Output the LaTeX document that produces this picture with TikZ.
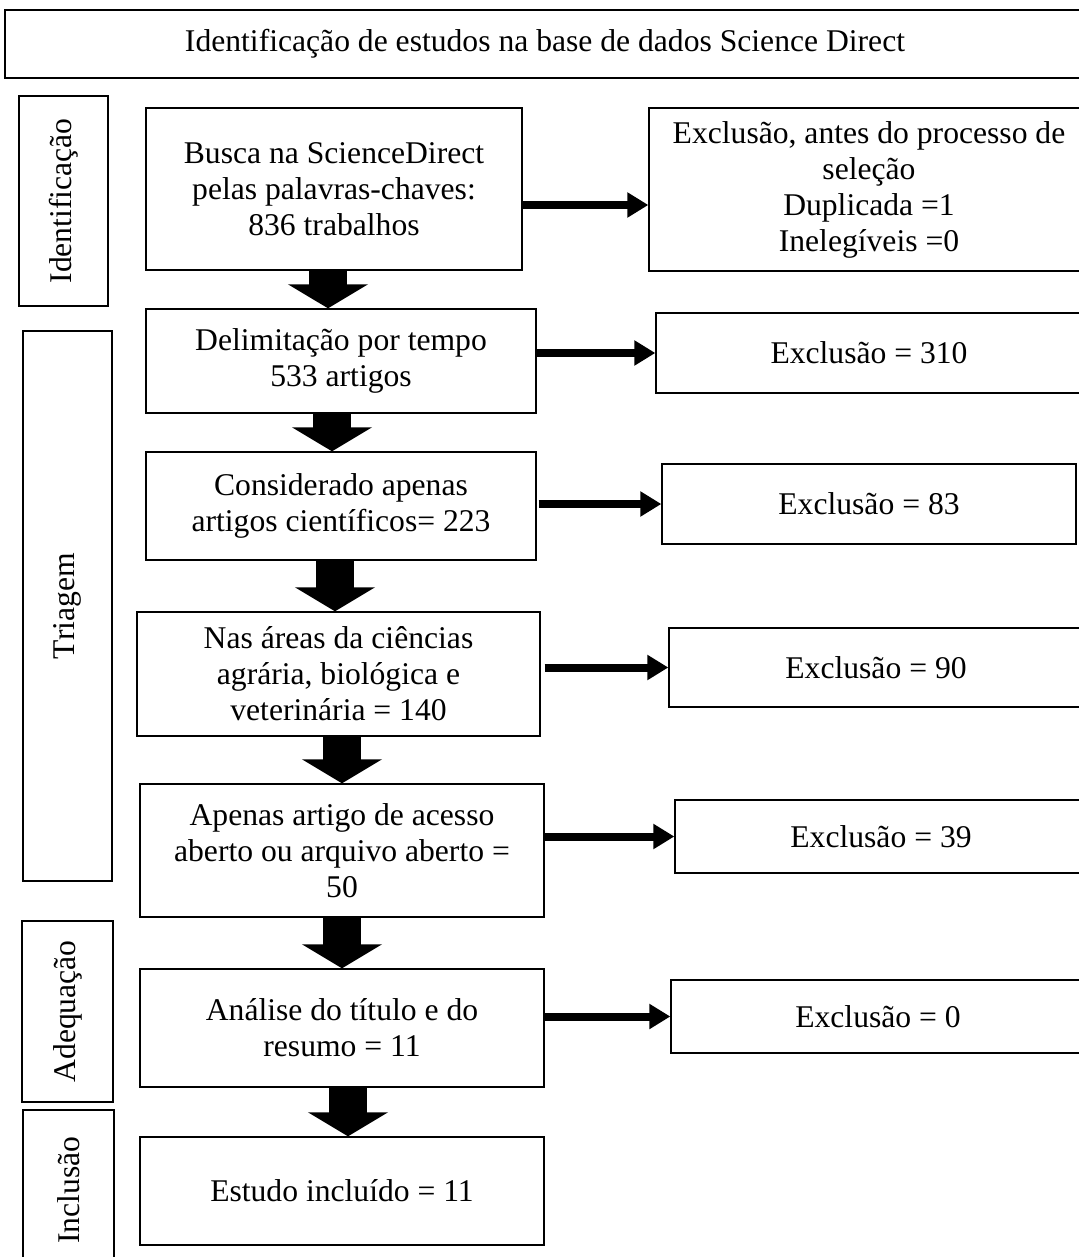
\documentclass[tikz,border=0pt]{standalone}
\usepackage{fontspec}
\setmainfont{Liberation Serif}
\usetikzlibrary{arrows.meta}

\begin{document}
\begin{tikzpicture}[
   x=0.02cm, y=-0.02cm,
   font=\fontsize{18}{20.5}\selectfont,
   box/.style={draw,line width=0.8pt,inner sep=0pt,align=center},
   stage/.style={box},
   excl/.style={box},
   phase/.style={box,rotate=90},
   side/.style={-{Triangle[width=0.48cm,length=0.42cm]},line width=0.16cm},
   down/.style={-{Triangle[width=1.58cm,length=0.48cm]},line width=0.76cm}]
\useasboundingbox (0,0) rectangle (1078,1257);
\node[box,minimum width=21.6cm,minimum height=1.36cm] (titulo) at (545,44) {Identificação de estudos na base de dados Science Direct};
% fases
\node[phase,minimum width=4.2cm,minimum height=1.78cm] (ident) at (63.5,201) {Identificação};
\node[phase,minimum width=11cm,minimum height=1.78cm] (triag) at (67.5,606) {Triagem};
\node[phase,minimum width=3.62cm,minimum height=1.82cm] (adequ) at (67.5,1011.5) {Adequação};
\node[phase,minimum width=3.2cm,minimum height=1.82cm] (inclu) at (68.5,1190) {Inclusão};
% etapas
\node[stage,minimum width=7.52cm,minimum height=3.24cm] (busca) at (334,189) {Busca na ScienceDirect\\pelas palavras-chaves:\\836 trabalhos};
\node[stage,minimum width=7.8cm,minimum height=2.08cm] (delim) at (341,361) {Delimitação por tempo\\533 artigos};
\node[stage,minimum width=7.8cm,minimum height=2.16cm] (consid) at (341,506) {Considerado apenas\\artigos científicos= 223};
\node[stage,minimum width=8.06cm,minimum height=2.48cm] (areas) at (338.5,674) {Nas áreas da ciências\\agrária, biológica e\\veterinária = 140};
\node[stage,minimum width=8.08cm,minimum height=2.66cm] (acesso) at (342,850.5) {Apenas artigo de acesso\\aberto ou arquivo aberto =\\50};
\node[stage,minimum width=8.08cm,minimum height=2.36cm] (analise) at (342,1028) {Análise do título e do\\resumo = 11};
\node[stage,minimum width=8.08cm,minimum height=2.16cm] (estudo) at (342,1191) {Estudo incluído = 11};
% exclusoes
\node[excl,minimum width=8.8cm,minimum height=3.26cm] (exA) at (869,189.5) {Exclusão, antes do processo de\\seleção\\Duplicada =1\\Inelegíveis =0};
\node[excl,minimum width=8.52cm,minimum height=1.6cm] (ex310) at (869,353) {Exclusão = 310};
\node[excl,minimum width=8.28cm,minimum height=1.6cm] (ex83) at (869,504) {Exclusão = 83};
\node[excl,minimum width=8.28cm,minimum height=1.58cm] (ex90) at (876,667.5) {Exclusão = 90};
\node[excl,minimum width=8.24cm,minimum height=1.46cm] (ex39) at (881,836.5) {Exclusão = 39};
\node[excl,minimum width=8.28cm,minimum height=1.46cm] (ex0) at (878,1016.5) {Exclusão = 0};
% setas
\draw[down] ([xshift=-0.12cm]busca.south) -- ([xshift=-0.12cm]busca.south |- delim.north);
\draw[down] ([xshift=-0.18cm]delim.south) -- ([xshift=-0.18cm]delim.south |- consid.north);
\draw[down] ([xshift=-0.12cm]consid.south) -- ([xshift=-0.12cm]consid.south |- areas.north);
\draw[down] (acesso.north |- areas.south) -- (acesso.north);
\draw[down] (acesso.south) -- (analise.north);
\draw[down] ([xshift=0.12cm]analise.south) -- ([xshift=0.12cm]estudo.north);
\draw[side] ([yshift=-0.31cm]busca.east |- exA.west) -- ([yshift=-0.31cm]exA.west);
\draw[side] (delim.east |- ex310.west) -- (ex310.west);
\draw[side] ([xshift=0.04cm]consid.east |- ex83.west) -- (ex83.west);
\draw[side] ([xshift=0.08cm]areas.east |- ex90.west) -- (ex90.west);
\draw[side] (acesso.east |- ex39.west) -- (ex39.west);
\draw[side] (analise.east |- ex0.west) -- (ex0.west);
\end{tikzpicture}
\end{document}
